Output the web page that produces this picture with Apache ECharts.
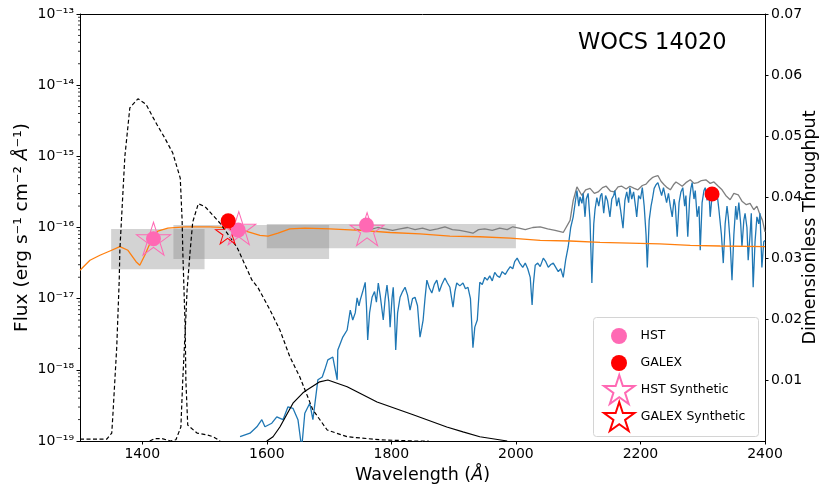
<!DOCTYPE html>
<html>
<head>
<meta charset="utf-8">
<script src="https://cdn.jsdelivr.net/npm/echarts@6/dist/echarts.min.js"></script>
<style>
  html, body { margin: 0; padding: 0; background: #fff; }
  #chart { width: 830px; height: 498px; }
</style>
</head>
<body>
<div id="chart"></div>
<script>
// axis ticks
const xTicks = [1400, 1600, 1800, 2000, 2200, 2400];
const fluxTicks = [1e-19, 1e-18, 1e-17, 1e-16, 1e-15, 1e-14, 1e-13];
const throughputTicks = [0.01, 0.02, 0.03, 0.04, 0.05, 0.06, 0.07];

// model spectrum (blue), flux given as log10
const blueWave = [1557, 1573, 1584, 1592, 1597, 1608, 1616, 1626, 1634, 1642, 1650, 1656, 1661, 1669, 1674, 1682, 1689, 1693, 1698, 1706,
  1713, 1714, 1722, 1729,
  1734, 1738, 1742, 1745, 1748, 1750, 1754, 1758, 1760, 1762, 1765, 1769, 1773, 1776, 1779, 1782, 1787, 1790, 1793, 1796,
  1798, 1801, 1803, 1805, 1807, 1810, 1814, 1818, 1822, 1826, 1830, 1834, 1838, 1842, 1846, 1849, 1851, 1854, 1857, 1861,
  1865, 1869, 1873, 1877, 1881, 1886, 1890, 1894, 1899, 1902, 1905, 1910, 1915, 1919, 1923, 1927, 1931, 1934, 1938, 1942,
  1946, 1950, 1954, 1958, 1962, 1966, 1970, 1974, 1978, 1983, 1987, 1991, 1995, 1998, 2002, 2006, 2011, 2015, 2019, 2023,
  2026, 2028, 2031, 2035, 2039, 2044, 2048, 2052, 2056, 2060, 2064, 2068, 2072, 2076, 2080,
  2084, 2088, 2092, 2096, 2098, 2101, 2103, 2106, 2108, 2111, 2113, 2116, 2119, 2122, 2125, 2127, 2130, 2133, 2136, 2138,
  2141, 2144, 2147, 2151, 2154, 2157, 2159, 2162, 2165, 2168, 2172, 2175, 2178, 2181, 2183, 2186, 2189, 2192, 2194, 2197,
  2200, 2203, 2206, 2209, 2211, 2214, 2217, 2219, 2222, 2225, 2228, 2231, 2234, 2237, 2239, 2242, 2245, 2248, 2251, 2254,
  2256, 2259, 2262, 2265, 2268, 2271, 2273, 2276, 2279, 2281, 2283, 2286, 2288, 2291, 2294, 2296, 2299, 2302, 2304, 2307,
  2310, 2312, 2315, 2318, 2321, 2323, 2326, 2330, 2333, 2336, 2339, 2341, 2344, 2347, 2350, 2353, 2355, 2358, 2361, 2363,
  2366, 2368, 2371, 2373, 2376, 2378, 2381, 2384, 2387, 2390, 2392, 2395, 2398, 2400];
const blueLogFlux = [-18.94, -18.89, -18.80, -18.70, -18.80, -18.75, -18.66, -18.70, -18.52, -18.54, -18.70, -19.10, -18.61, -18.47, -18.70, -18.14, -18.10, -18.00, -17.86, -17.82,
  -18.14, -17.72, -17.54, -17.44,
  -17.16, -17.30, -17.20, -16.99, -17.10, -17.02, -16.90, -16.77, -17.10, -17.58, -17.20, -16.98, -16.90, -17.05, -16.78, -16.95, -17.30, -17.00, -16.81, -17.05,
  -17.40, -17.00, -16.84, -17.20, -17.72, -17.20, -16.98, -16.90, -16.84, -16.95, -17.16, -17.00, -16.98, -17.10, -17.54, -17.40, -17.30, -17.00, -16.74, -16.85,
  -16.92, -16.80, -16.74, -16.90, -16.80, -16.71, -16.78, -16.84, -17.12, -16.90, -16.78, -16.82, -16.78, -16.86, -16.84, -17.00, -17.69, -17.40, -17.30, -16.77,
  -16.80, -16.70, -16.74, -16.68, -16.75, -16.63, -16.68, -16.70, -16.62, -16.66, -16.60, -16.55, -16.58, -16.48, -16.43, -16.50, -16.56, -16.50, -16.58, -16.70,
  -17.09, -16.80, -16.53, -16.50, -16.55, -16.43, -16.48, -16.56, -16.52, -16.50, -16.56, -16.62, -16.58, -16.70, -16.45,
  -16.27, -16.00, -15.85, -15.60, -15.48, -15.70, -15.57, -15.66, -15.52, -15.85, -15.60, -15.52, -15.90, -16.78, -15.95, -15.75, -15.58, -15.70, -15.55, -15.52,
  -15.80, -15.55, -15.62, -15.85, -15.60, -15.55, -15.48, -15.70, -15.58, -15.75, -16.01, -15.62, -15.50, -15.65, -15.44, -15.60, -15.50, -15.70, -15.85, -15.55,
  -15.60, -15.44, -15.70, -16.10, -16.56, -15.90, -15.70, -15.61, -15.45, -15.40, -15.37, -15.37, -15.55, -15.44, -15.44, -15.65, -15.52, -15.70, -15.85, -15.60,
  -15.70, -16.13, -15.65, -15.50, -15.44, -15.70, -15.55, -16.13, -15.60, -15.45, -15.37, -15.60, -15.48, -15.85, -15.70, -16.32, -15.65, -15.48, -15.44, -15.62,
  -15.50, -15.85, -15.55, -15.48, -15.60, -15.52, -15.75, -16.10, -16.50, -15.95, -15.70, -15.85, -16.20, -16.74, -16.10, -15.70, -15.89, -15.65, -15.95, -16.27,
  -15.90, -15.80, -16.00, -16.46, -16.10, -15.80, -16.84, -16.20, -15.85, -15.95, -15.80, -16.56, -16.20, -16.18];

// unreddened spectrum (gray), log10 flux
const grayWave = [1740, 1752, 1766, 1778, 1790, 1802, 1814, 1826, 1838, 1850, 1862, 1874, 1886, 1898, 1910, 1922, 1931, 1940, 1950, 1962,
  1974, 1986, 1995, 2005, 2015, 2027, 2039, 2051, 2063, 2076, 2087, 2092, 2098, 2106, 2112, 2119, 2126, 2132, 2139, 2145,
  2152, 2158, 2164, 2170, 2177, 2183, 2190, 2196, 2203, 2209, 2214, 2219, 2224, 2228, 2233, 2238, 2243, 2248, 2253, 2257,
  2262, 2267, 2273, 2280, 2286, 2292, 2298, 2305, 2312, 2318, 2325, 2331, 2337, 2344, 2350, 2357, 2363, 2370, 2376, 2382,
  2387, 2392, 2396, 2400];
const grayLogFlux = [-16.02, -16.04, -16.03, -16.00, -16.02, -16.04, -16.02, -16.00, -16.03, -16.01, -16.04, -16.02, -15.99, -16.03, -16.04, -16.06, -16.08, -16.03, -16.02, -16.04,
  -16.01, -16.03, -15.99, -16.01, -16.03, -16.00, -15.99, -16.02, -16.04, -16.07, -15.90, -15.62, -15.43, -15.55, -15.47, -15.45, -15.52, -15.50, -15.44, -15.42,
  -15.49, -15.50, -15.43, -15.42, -15.46, -15.42, -15.45, -15.47, -15.41, -15.39, -15.34, -15.30, -15.28, -15.27, -15.35, -15.40, -15.44, -15.47, -15.40, -15.36,
  -15.39, -15.42, -15.37, -15.33, -15.38, -15.37, -15.34, -15.33, -15.38, -15.36, -15.42, -15.47, -15.55, -15.61, -15.52, -15.54, -15.63, -15.68, -15.66, -15.75,
  -15.70, -15.82, -15.90, -16.06];

// smooth fit (orange), log10 flux
const orangeWave = [1300, 1316, 1332, 1348, 1364, 1377, 1390, 1396, 1404, 1416, 1425, 1441, 1469, 1509, 1549, 1573, 1589, 1602, 1618, 1637,
  1661, 1701, 1750, 1798, 1846, 1894, 1942, 1991, 2039, 2087, 2135, 2183, 2231, 2280, 2328, 2400];
const orangeLogFlux = [-16.60, -16.46, -16.39, -16.33, -16.27, -16.32, -16.48, -16.53, -16.39, -16.15, -16.05, -16.01, -15.99, -15.99, -16.01, -16.07, -16.11, -16.12, -16.08, -16.02,
  -16.01, -16.02, -16.04, -16.07, -16.09, -16.12, -16.13, -16.15, -16.18, -16.19, -16.21, -16.22, -16.23, -16.25, -16.26, -16.27];

// filter throughputs (right axis)
const f1Wave = [1300, 1343, 1351, 1353, 1359, 1363, 1364, 1372, 1380, 1393, 1406, 1417, 1424, 1436, 1449, 1461, 1464, 1465, 1467, 1469,
  1470, 1473, 1488, 1504, 1514, 1525];
const f1Thru = [0.0003, 0.0003, 0.0013, 0.0046, 0.0154, 0.0264, 0.0313, 0.0466, 0.0546, 0.0561, 0.0552, 0.0531, 0.0518, 0.0497, 0.0472, 0.0431, 0.0362, 0.0313, 0.0248, 0.0182,
  0.0100, 0.0026, 0.0013, 0.0010, 0.0007, 0.0];
const f2Wave = [1412, 1420, 1432, 1445, 1454, 1462, 1465, 1469, 1472, 1477, 1481, 1490, 1501, 1525, 1552, 1576, 1586, 1605, 1621, 1637,
  1653, 1674, 1697, 1729, 1782, 1835, 1860];
const f2Thru = [0.0, 0.0004, 0.0004, 0.0, 0.0002, 0.0023, 0.0100, 0.0182, 0.0248, 0.0313, 0.0359, 0.0389, 0.0384, 0.0357, 0.0318, 0.0264, 0.0251, 0.0215, 0.0182, 0.0138,
  0.0105, 0.0051, 0.0018, 0.0007, 0.0002, 0.0, 0.0];
const f3Wave = [1600, 1610, 1621, 1642, 1658, 1665, 1685, 1698, 1729, 1777, 1835, 1889, 1915, 1942, 1986];
const f3Thru = [0.0, 0.0007, 0.0023, 0.0062, 0.0079, 0.0084, 0.0097, 0.0100, 0.0089, 0.0064, 0.0043, 0.0023, 0.0015, 0.0007, 0.0];

// shaded bands
const boxWaveMin = [1350, 1450, 1600];
const boxWaveMax = [1500, 1700, 2000];
const boxFluxLow = [2.6e-17, 3.6e-17, 5.1e-17];
const boxFluxHigh = [9.5e-17, 1.08e-16, 1.12e-16];

// photometry
const hstWave = [1418, 1554, 1760];
const hstFlux = [6.95e-17, 9.2e-17, 1.08e-16];
const galexWave = [1538, 2315];
const galexFlux = [1.24e-16, 2.95e-16];
const hstSynWave = [1418, 1555, 1761];
const hstSynFlux = [6.95e-17, 9.8e-17, 9.5e-17];
const galexSynWave = [1537];
const galexSynFlux = [8.55e-17];

const FONT = 'DejaVu Sans';
const STAR = 'path://M0,-100 L22.45,-30.9 L95.1,-30.9 L36.3,11.8 L58.8,80.9 L0,38.2 L-58.8,80.9 L-36.3,11.8 L-95.1,-30.9 L-22.45,-30.9 Z';
const SUP = { '0': '⁰', '1': '¹', '2': '²', '3': '³', '4': '⁴', '5': '⁵', '6': '⁶', '7': '⁷', '8': '⁸', '9': '⁹', '-': '⁻' };

const pairs = (xs, ys) => xs.map((x, i) => [x, ys[i]]);
const logPairs = (xs, ys) => xs.map((x, i) => [x, Math.pow(10, ys[i])]);

// minor ticks of the log axis (2..9 per decade)
const minorTicks = [];
for (let e = -19; e < -13; e++) {
  for (let m = 2; m <= 9; m++) minorTicks.push([1300, m * Math.pow(10, e)]);
}

const chart = echarts.init(document.getElementById('chart'));

const line = (name, data, color, z, extra) => Object.assign({
  name, type: 'line', data, z, showSymbol: false, symbol: 'none',
  lineStyle: { color, width: 1.3 }, silent: true
}, extra || {});

chart.setOption({
  animation: false,
  backgroundColor: '#fff',
  textStyle: { fontFamily: FONT },
  title: {
    text: 'WOCS 14020', left: 578, top: 32, padding: 0,
    textStyle: { fontFamily: FONT, fontSize: 22.5, fontWeight: 'normal', color: '#000' }
  },
  grid: { left: 80, right: 65, top: 14, bottom: 57, containLabel: false, outerBoundsMode: 'none' },
  xAxis: [{
    type: 'value', min: 1300, max: 2400,
    name: 'Wavelength ({it|Å})', nameLocation: 'middle', nameGap: 25, nameMoveOverlap: false,
    nameTextStyle: { fontFamily: FONT, fontSize: 17.5, color: '#000',
      rich: { it: { fontStyle: 'italic', fontFamily: FONT, fontSize: 17.5, color: '#000' } } },
    axisLine: { show: true, onZero: false, lineStyle: { color: '#000', width: 1 } },
    axisTick: { show: true, length: 3.5, customValues: xTicks, lineStyle: { color: '#000' } },
    axisLabel: { customValues: xTicks, fontFamily: FONT, fontSize: 14, color: '#000', margin: 6,
      formatter: v => String(v) },
    splitLine: { show: false }
  }, {
    type: 'value', min: 1300, max: 2400, position: 'top',
    axisLine: { show: true, onZero: false, lineStyle: { color: '#000', width: 1 } },
    axisTick: { show: false }, axisLabel: { show: false }, splitLine: { show: false }
  }],
  yAxis: [{
    type: 'log', logBase: 10, min: 1e-19, max: 1e-13,
    name: 'Flux (erg s⁻¹ cm⁻² {it|Å}⁻¹)', nameLocation: 'middle', nameGap: 48, nameRotate: 90, nameMoveOverlap: false,
    nameTextStyle: { fontFamily: FONT, fontSize: 18.5, color: '#000',
      rich: { it: { fontStyle: 'italic', fontFamily: FONT, fontSize: 18.5, color: '#000' } } },
    axisLine: { show: true, onZero: false, lineStyle: { color: '#000', width: 1 } },
    axisTick: { show: true, length: 3.5, customValues: fluxTicks, lineStyle: { color: '#000' } },
    axisLabel: {
      customValues: fluxTicks, fontFamily: FONT, fontSize: 14, color: '#000', margin: 6,
      formatter: v => '10' + String(Math.round(Math.log10(v))).split('').map(c => SUP[c]).join('')
    },
    splitLine: { show: false }
  }, {
    type: 'value', min: 0, max: 0.07, interval: 0.01, position: 'right',
    name: 'Dimensionless Throughput', nameLocation: 'middle', nameGap: 36, nameRotate: 90, nameMoveOverlap: false,
    nameTextStyle: { fontFamily: FONT, fontSize: 17.5, color: '#000' },
    axisLine: { show: true, onZero: false, lineStyle: { color: '#000', width: 1 } },
    axisTick: { show: true, length: 3.5, customValues: throughputTicks, lineStyle: { color: '#000' } },
    axisLabel: { customValues: throughputTicks, fontFamily: FONT, fontSize: 14, color: '#000', margin: 6,
      formatter: v => v.toFixed(2) },
    splitLine: { show: false }
  }],
  legend: [
    { name: 'HST', icon: 'circle', top: 328, left: 611 },
    { name: 'GALEX', icon: 'circle', top: 355, left: 611 },
    { name: 'HST Synthetic', icon: STAR, top: 374, left: 603 },
    { name: 'GALEX Synthetic', icon: STAR, top: 401, left: 603 }
  ].map((it, i) => ({
    data: [{ name: it.name, icon: it.icon }],
    left: it.left, top: it.top, padding: 0, orient: 'vertical', z: 12,
    itemWidth: 33, itemHeight: i < 2 ? 16 : 29, selectedMode: false,
    textStyle: { fontFamily: FONT, fontSize: 12.5, color: '#000' }
  })),
  graphic: [{
    type: 'rect', z: 11, silent: true,
    shape: { x: 593.5, y: 317.5, width: 165, height: 119, r: 3 },
    style: { fill: 'rgba(255,255,255,0.8)', stroke: '#d4d4d4', lineWidth: 1 }
  }],
  series: [
    {
      type: 'custom', name: 'bands', z: 1, silent: true,
      data: boxWaveMin.map((w, i) => [w, boxWaveMax[i], boxFluxLow[i], boxFluxHigh[i]]),
      encode: { x: [0, 1], y: [2, 3] },
      renderItem: (params, api) => {
        const p1 = api.coord([api.value(0), api.value(3)]);
        const p2 = api.coord([api.value(1), api.value(2)]);
        return { type: 'rect', shape: { x: p1[0], y: p1[1], width: p2[0] - p1[0], height: p2[1] - p1[1] },
          style: { fill: 'rgba(128,128,128,0.35)' } };
      }
    },
    {
      type: 'custom', name: 'minor', z: 10, silent: true, clip: false,
      data: minorTicks, encode: { x: 0, y: 1 },
      renderItem: (params, api) => {
        const p = api.coord([api.value(0), api.value(1)]);
        return { type: 'line', shape: { x1: p[0] - 2, y1: p[1], x2: p[0], y2: p[1] },
          style: { stroke: '#000', lineWidth: 0.8 } };
      }
    },
    line('gray', logPairs(grayWave, grayLogFlux), '#7f7f7f', 2),
    line('model', logPairs(blueWave, blueLogFlux), '#1f77b4', 3),
    line('fit', logPairs(orangeWave, orangeLogFlux), '#ff7f0e', 4),
    line('f1', pairs(f1Wave, f1Thru), '#000', 5, { yAxisIndex: 1, lineStyle: { color: '#000', width: 1.2, type: [4, 2.5] } }),
    line('f2', pairs(f2Wave, f2Thru), '#000', 5, { yAxisIndex: 1, lineStyle: { color: '#000', width: 1.2, type: [4, 2.5] } }),
    line('f3', pairs(f3Wave, f3Thru), '#000', 5, { yAxisIndex: 1, lineStyle: { color: '#000', width: 1.2 } }),
    {
      name: 'HST Synthetic', type: 'scatter', z: 6, symbol: STAR, symbolSize: [34, 33],
      data: pairs(hstSynWave, hstSynFlux),
      itemStyle: { color: 'rgba(255,255,255,0)', borderColor: '#ff69b4', borderWidth: 1, opacity: 1 }
    },
    {
      name: 'GALEX Synthetic', type: 'scatter', z: 6, symbol: STAR, symbolSize: [24, 23],
      data: pairs(galexSynWave, galexSynFlux),
      itemStyle: { color: 'rgba(255,255,255,0)', borderColor: '#ff0000', borderWidth: 1, opacity: 1 }
    },
    {
      name: 'HST', type: 'scatter', z: 7, symbol: 'circle', symbolSize: 15,
      data: pairs(hstWave, hstFlux), itemStyle: { color: '#ff69b4', opacity: 1 }
    },
    {
      name: 'GALEX', type: 'scatter', z: 7, symbol: 'circle', symbolSize: 15,
      data: pairs(galexWave, galexFlux), itemStyle: { color: '#ff0000', opacity: 1 }
    }
  ]
});
</script>
</body>
</html>
